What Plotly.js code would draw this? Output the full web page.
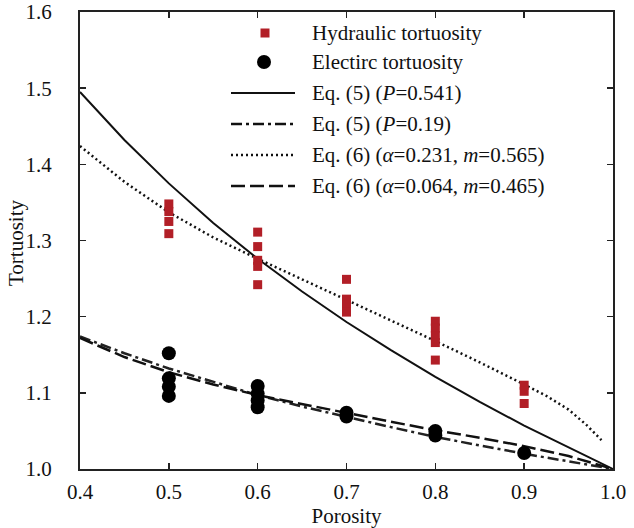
<!DOCTYPE html>
<html>
<head>
<meta charset="utf-8">
<script src="https://cdn.plot.ly/plotly-3.0.1.min.js"></script>
<style>html,body{margin:0;padding:0;background:#fff;}#chart{width:634px;height:528px;}</style>
</head>
<body>
<div id="chart"></div>
<script>
// ---- data ----
var curvePorosity = [0.4, 0.45, 0.5, 0.55, 0.6, 0.65, 0.7, 0.75, 0.8, 0.85, 0.9, 0.95, 1.0];
var eq5P0541 = [1.495, 1.432, 1.375, 1.323, 1.276, 1.233, 1.193, 1.156, 1.121, 1.088, 1.057, 1.028, 1.0];
var eq5P019  = [1.174, 1.152, 1.132, 1.114, 1.097, 1.082, 1.068, 1.055, 1.042, 1.031, 1.020, 1.010, 1.0];
var eq6bPorosity = [0.4, 0.45, 0.5, 0.55, 0.6, 0.65, 0.7, 0.75, 0.8, 0.85, 0.9, 0.95, 1.0];
var eq6b = [1.172, 1.147, 1.127, 1.111, 1.097, 1.085, 1.073, 1.062, 1.051, 1.041, 1.030, 1.017, 1.0];
var eq6aPorosity = [0.4, 0.45, 0.5, 0.55, 0.6, 0.65, 0.7, 0.75, 0.8, 0.85, 0.875, 0.9, 0.925, 0.95, 0.97, 0.987];
var eq6a = [1.424, 1.377, 1.337, 1.304, 1.276, 1.249, 1.223, 1.196, 1.168, 1.140, 1.126, 1.111, 1.096, 1.078, 1.058, 1.038];

var hydPorosity = [0.5, 0.5, 0.5, 0.5, 0.6, 0.6, 0.6, 0.6, 0.6, 0.7, 0.7, 0.7, 0.7, 0.8, 0.8, 0.8, 0.8, 0.8, 0.9, 0.9, 0.9];
var hydTortuosity = [1.348, 1.338, 1.325, 1.309, 1.311, 1.292, 1.274, 1.266, 1.242, 1.249, 1.223, 1.215, 1.206, 1.194, 1.185, 1.175, 1.166, 1.143, 1.110, 1.102, 1.086];
var elePorosity = [0.5, 0.5, 0.5, 0.5, 0.6, 0.6, 0.6, 0.6, 0.7, 0.7, 0.8, 0.8, 0.9];
var eleTortuosity = [1.152, 1.119, 1.108, 1.096, 1.109, 1.099, 1.090, 1.081, 1.074, 1.069, 1.050, 1.044, 1.021];

var xTicks = [0.4, 0.5, 0.6, 0.7, 0.8, 0.9, 1.0];
var xTickLabels = ['0.4', '0.5', '0.6', '0.7', '0.8', '0.9', '1.0'];
var yTicks = [1.0, 1.1, 1.2, 1.3, 1.4, 1.5, 1.6];
var yTickLabels = ['1.0', '1.1', '1.2', '1.3', '1.4', '1.5', '1.6'];

var legendLabels = [
  'Hydraulic tortuosity',
  'Electirc tortuosity',
  'Eq. (5) (<i>P</i>=0.541)',
  'Eq. (5) (<i>P</i>=0.19)',
  'Eq. (6) (<i>α</i>=0.231, <i>m</i>=0.565)',
  'Eq. (6) (<i>α</i>=0.064, <i>m</i>=0.465)'
];
var xTitle = 'Porosity';
var yTitle = 'Tortuosity';

// ---- styles ----
var FONT = 'Liberation Serif';
var FS = 21;
var RED = '#b21f27';
var DASHDOT = '11px,4px,3px,4px';
var DOT = '2px,3px';
var DASH = '14px,5px';

var traces = [
  {x: curvePorosity, y: eq5P0541, mode: 'lines', line: {color: '#111', width: 2}, name: legendLabels[2]},
  {x: curvePorosity, y: eq5P019, mode: 'lines', line: {color: '#222', width: 2.5, dash: DASHDOT}, name: legendLabels[3]},
  {x: eq6aPorosity, y: eq6a, mode: 'lines', line: {color: '#111', width: 2.5, dash: DOT}, name: legendLabels[4]},
  {x: eq6bPorosity, y: eq6b, mode: 'lines', line: {color: '#111', width: 2.5, dash: DASH}, name: legendLabels[5]},
  {x: hydPorosity, y: hydTortuosity, mode: 'markers', marker: {symbol: 'square', size: 9, color: RED}, name: legendLabels[0]},
  {x: elePorosity, y: eleTortuosity, mode: 'markers', marker: {symbol: 'circle', size: 14, color: '#000'}, name: legendLabels[1]}
];

// manual legend (paper coordinates of plot area)
var L = 80, R = 613, T = 12, B = 469;
function px(x) { return (x - L) / (R - L); }
function py(y) { return (B - y) / (B - T); }
var rowY = [33, 62, 93, 124, 155, 186];
var annotations = legendLabels.map(function (t, i) {
  return {xref: 'paper', yref: 'paper', x: px(310), y: py(rowY[i]), text: t, showarrow: false,
          xanchor: 'left', yanchor: 'middle', font: {family: FONT, size: FS, color: '#111'}};
});
// y-axis title placed as rotated text
annotations.push({xref: 'paper', yref: 'paper', x: px(16), y: py(243), text: yTitle, showarrow: false,
                  textangle: -90, xanchor: 'center', yanchor: 'middle',
                  font: {family: FONT, size: FS, color: '#111'}});

var shapes = [
  {type: 'rect', xref: 'paper', yref: 'paper', xsizemode: 'pixel', ysizemode: 'pixel',
   xanchor: px(265), yanchor: py(rowY[0]), x0: -4.5, x1: 4.5, y0: -4.5, y1: 4.5,
   fillcolor: RED, line: {width: 0}},
  {type: 'circle', xref: 'paper', yref: 'paper', xsizemode: 'pixel', ysizemode: 'pixel',
   xanchor: px(264), yanchor: py(rowY[1]), x0: -7, x1: 7, y0: -7, y1: 7,
   fillcolor: '#000', line: {width: 0}}
];
var legendDash = ['solid', DASHDOT, DOT, DASH];
var legendW = [2, 2.5, 2.5, 2.5];
for (var i = 0; i < 4; i++) {
  shapes.push({type: 'line', xref: 'paper', yref: 'paper', x0: px(231), x1: px(295),
               y0: py(rowY[i + 2]), y1: py(rowY[i + 2]),
               line: {color: '#111', width: legendW[i], dash: legendDash[i]}});
}

var axisCommon = {
  showline: true, linecolor: '#222', linewidth: 2, mirror: 'ticks',
  ticks: 'inside', ticklen: 6, tickwidth: 1.5, tickcolor: '#222',
  showgrid: false, zeroline: false,
  tickfont: {family: FONT, size: FS, color: '#111'}
};

var layout = {
  width: 634, height: 528,
  margin: {l: L, r: 634 - R, t: T, b: 528 - B, pad: 0},
  paper_bgcolor: '#fff', plot_bgcolor: '#fff',
  font: {family: FONT},
  showlegend: false,
  xaxis: Object.assign({}, axisCommon, {
    range: [0.4, 1.0], tickvals: xTicks, ticktext: xTickLabels,
    ticklabelstandoff: 3,
    title: {text: xTitle, font: {family: FONT, size: FS, color: '#111'}, standoff: 5}
  }),
  yaxis: Object.assign({}, axisCommon, {
    range: [1.0, 1.6], tickvals: yTicks, ticktext: yTickLabels,
    ticklabelstandoff: 22
  }),
  annotations: annotations,
  shapes: shapes
};

Plotly.newPlot('chart', traces, layout, {staticPlot: true, displayModeBar: false});
</script>
</body>
</html>
